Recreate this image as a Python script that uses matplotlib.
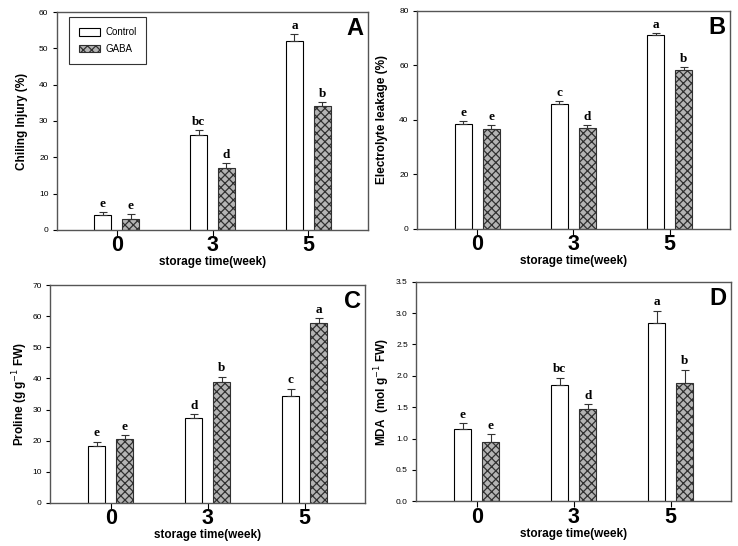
import numpy as np
import matplotlib
matplotlib.use('Agg')
import matplotlib.pyplot as plt
from matplotlib.patches import Patch

plt.rcParams['font.family'] = ['Liberation Sans', 'DejaVu Sans']
plt.rcParams['hatch.linewidth'] = 0.9

weeks = ['0', '3', '5']
series = ['Control', 'GABA']

# panel A - chilling injury (%)
ci_control = [4.0, 26.0, 52.0]
ci_control_err = [1.0, 1.5, 2.0]
ci_gaba = [3.0, 17.0, 34.0]
ci_gaba_err = [1.4, 1.5, 1.3]
ci_control_lbl = ['e', 'bc', 'a']
ci_gaba_lbl = ['e', 'd', 'b']

# panel B - electrolyte leakage (%)
el_control = [38.4, 45.8, 71.1]
el_control_err = [1.0, 1.0, 0.8]
el_gaba = [36.8, 37.0, 58.4]
el_gaba_err = [1.2, 1.0, 1.1]
el_control_lbl = ['e', 'c', 'a']
el_gaba_lbl = ['e', 'd', 'b']

# panel C - proline
pr_control = [18.3, 27.3, 34.4]
pr_control_err = [1.4, 1.1, 2.3]
pr_gaba = [20.4, 38.9, 57.7]
pr_gaba_err = [1.3, 1.7, 1.6]
pr_control_lbl = ['e', 'd', 'c']
pr_gaba_lbl = ['e', 'b', 'a']

# panel D - MDA
md_control = [1.15, 1.85, 2.84]
md_control_err = [0.10, 0.12, 0.20]
md_gaba = [0.95, 1.47, 1.88]
md_gaba_err = [0.12, 0.08, 0.22]
md_control_lbl = ['e', 'bc', 'a']
md_gaba_lbl = ['e', 'd', 'b']

HATCH_FC = '#b4b4b4'
HATCH_EC = '#303030'


def draw_panel(ax, ctrl, ctrl_err, gaba, gaba_err, ctrl_lbl, gaba_lbl,
               ymax, ystep, ylabel, letter, fmt='%d', ylpad=8):
    x = np.arange(len(weeks))
    off = 0.145
    w = 0.175
    ax.bar(x - off, ctrl, w, color='white', edgecolor='black', linewidth=0.8,
           yerr=[np.zeros(3), ctrl_err], error_kw=dict(ecolor='#333333', elinewidth=0.8,
                                                       capsize=3, capthick=0.8))
    ax.bar(x + off, gaba, w, color=HATCH_FC, edgecolor=HATCH_EC, linewidth=0.8, hatch='xxxx',
           yerr=[np.zeros(3), gaba_err], error_kw=dict(ecolor='#333333', elinewidth=0.8,
                                                       capsize=3, capthick=0.8))
    pad = ymax * 0.01
    for i in range(len(weeks)):
        ax.text(x[i] - off, ctrl[i] + ctrl_err[i] + pad, ctrl_lbl[i], ha='center', va='bottom',
                family='Liberation Serif', fontweight='bold', fontsize=9.5)
        ax.text(x[i] + off, gaba[i] + gaba_err[i] + pad, gaba_lbl[i], ha='center', va='bottom',
                family='Liberation Serif', fontweight='bold', fontsize=9.5)
    ax.set_xlim(-0.625, 2.625)
    ax.set_ylim(0, ymax)
    ax.set_xticks(x)
    ax.set_xticklabels(weeks, fontsize=15.5, fontweight='bold')
    yt = np.arange(0, ymax + ystep / 2, ystep)
    ax.set_yticks(yt)
    ax.set_yticklabels([fmt % v for v in yt], fontsize=6)
    ax.tick_params(axis='x', length=4, pad=0, width=0.8)
    ax.tick_params(axis='y', length=3, pad=3, width=0.8)
    for s in ax.spines.values():
        s.set_color('#555555')
        s.set_linewidth(1.0)
    ax.set_xlabel('storage time(week)', fontsize=8.5, fontweight='bold', labelpad=0)
    ax.set_ylabel(ylabel, fontsize=8.5, fontweight='bold', labelpad=ylpad)
    ax.text(0.985, 0.975, letter, transform=ax.transAxes, ha='right', va='top',
            fontsize=17, fontweight='bold')


fig = plt.figure(figsize=(7.38, 5.46), dpi=100)
axA = fig.add_axes([0.077, 0.579, 0.422, 0.399])
axB = fig.add_axes([0.565, 0.581, 0.424, 0.399])
axC = fig.add_axes([0.068, 0.079, 0.427, 0.399])
axD = fig.add_axes([0.564, 0.082, 0.427, 0.402])

draw_panel(axA, ci_control, ci_control_err, ci_gaba, ci_gaba_err, ci_control_lbl, ci_gaba_lbl,
           60, 10, 'Chiling Injury (%)', 'A')
draw_panel(axB, el_control, el_control_err, el_gaba, el_gaba_err, el_control_lbl, el_gaba_lbl,
           80, 20, 'Electrolyte leakage (%)', 'B')
draw_panel(axC, pr_control, pr_control_err, pr_gaba, pr_gaba_err, pr_control_lbl, pr_gaba_lbl,
           70, 10, 'Proline (g g$^{-1}$ FW)', 'C', ylpad=2)
draw_panel(axD, md_control, md_control_err, md_gaba, md_gaba_err, md_control_lbl, md_gaba_lbl,
           3.5, 0.5, 'MDA  (mol g$^{-1}$ FW)', 'D', fmt='%.1f', ylpad=3)

handles = [Patch(facecolor='white', edgecolor='black', linewidth=0.8),
           Patch(facecolor=HATCH_FC, edgecolor=HATCH_EC, hatch='xxxx', linewidth=0.8)]
leg = axA.legend(handles, series, loc='upper left', bbox_to_anchor=(0.04, 0.975),
                 fontsize=7, fancybox=False, edgecolor='#333333', framealpha=1,
                 borderpad=1.0, labelspacing=0.7, handlelength=2.2, handleheight=0.8,
                 handletextpad=0.5, borderaxespad=0)
leg.get_frame().set_linewidth(0.8)

fig.savefig('out.png', dpi=100)
